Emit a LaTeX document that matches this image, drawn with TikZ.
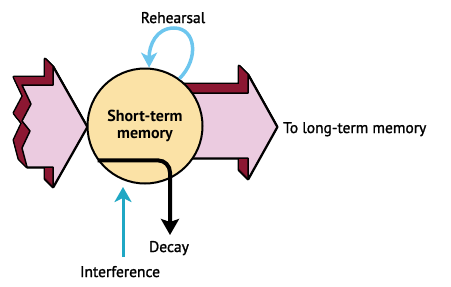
\documentclass[tikz,border=0pt]{standalone}
\usepackage{fontspec}
\setmainfont{PT Sans}
\newfontfamily\labfont[FakeBold=1.3]{PT Sans}
\usetikzlibrary{arrows.meta}
\definecolor{facepink}{HTML}{EBCBE0}
\definecolor{darkred}{HTML}{8C1732}
\definecolor{stmfill}{HTML}{FBE2A6}
\definecolor{intcyan}{HTML}{1FA7C4}
\definecolor{rehblue}{HTML}{6DC6EE}
\tikzset{
  lpoly/.style={insert path={(22,85) -- (53,85) -- (53,67) -- (87,127) -- (53,187) -- (53,167) -- (27,167) -- (22,148) -- (30,131) -- (22,121) -- (31,104) -- cycle}},
  rpoly/.style={insert path={(185,93) -- (248,93) -- (248,75) -- (277,127) -- (248,179) -- (248,158) -- (185,158) -- cycle}},
  lab/.style={font=\labfont\fontsize{15.5}{16}\selectfont, inner sep=0pt},
  outline/.style={line width=3pt, line join=round, draw=black},
}
\begin{document}
\begin{tikzpicture}[x=1pt,y=-1pt]
\useasboundingbox (0,0) rectangle (451,287);
% left arrow extrusion
\foreach \t in {0,0.5,...,8} { \draw[outline, shift={(-\t,-\t)}, lpoly]; }
\foreach \t in {0,0.5,...,8} { \fill[darkred, shift={(-\t,-\t)}, lpoly]; }
\draw[fill=facepink, line width=1.5pt, line join=round, lpoly];
% right arrow extrusion
\foreach \t in {0,0.5,...,9} { \draw[outline, shift={(-\t,-\t)}, rpoly]; }
\foreach \t in {0,0.5,...,9} { \fill[darkred, shift={(-\t,-\t)}, rpoly]; }
\draw[fill=facepink, line width=1.5pt, line join=round, rpoly];
% circle
\node[circle, draw=black, line width=2pt, fill=stmfill, minimum size=115pt, inner sep=0pt,
      align=center, font=\fontsize{16}{16.5}\selectfont\bfseries] (stm) at (145,126)
      {Short-term\\memory};
% labels
\node[lab, anchor=base] (reh) at (173,23) {Rehearsal};
\node[lab, anchor=base west] (ltm) at (283,133) {To long-term memory};
\node[lab, anchor=base] (decay) at (169,252) {Decay};
\node[lab, anchor=base] (interf) at (120,277) {Interference};
\coordinate (decaytip) at (170,235);
\coordinate (intbot) at (123,257);
\coordinate (inttip) at (123,187);
% decay
\draw[line width=4pt, rounded corners=12pt, -{Stealth[length=16pt,width=18pt,inset=3pt]}]
  (stm.216) -| (decaytip);
% interference
\draw[intcyan, line width=3pt, -{Stealth[length=15pt,width=17pt,inset=4pt]}] (intbot) -- (inttip);
% rehearsal
\draw[rehblue, line width=3.5pt, -{Stealth[length=15pt,width=16pt,inset=4pt]}]
  (stm.54) .. controls +(20,-20) and +(22,0) .. (174,28)
  .. controls +(-18,0) and +(0,-22) .. (stm.86);
\end{tikzpicture}
\end{document}
